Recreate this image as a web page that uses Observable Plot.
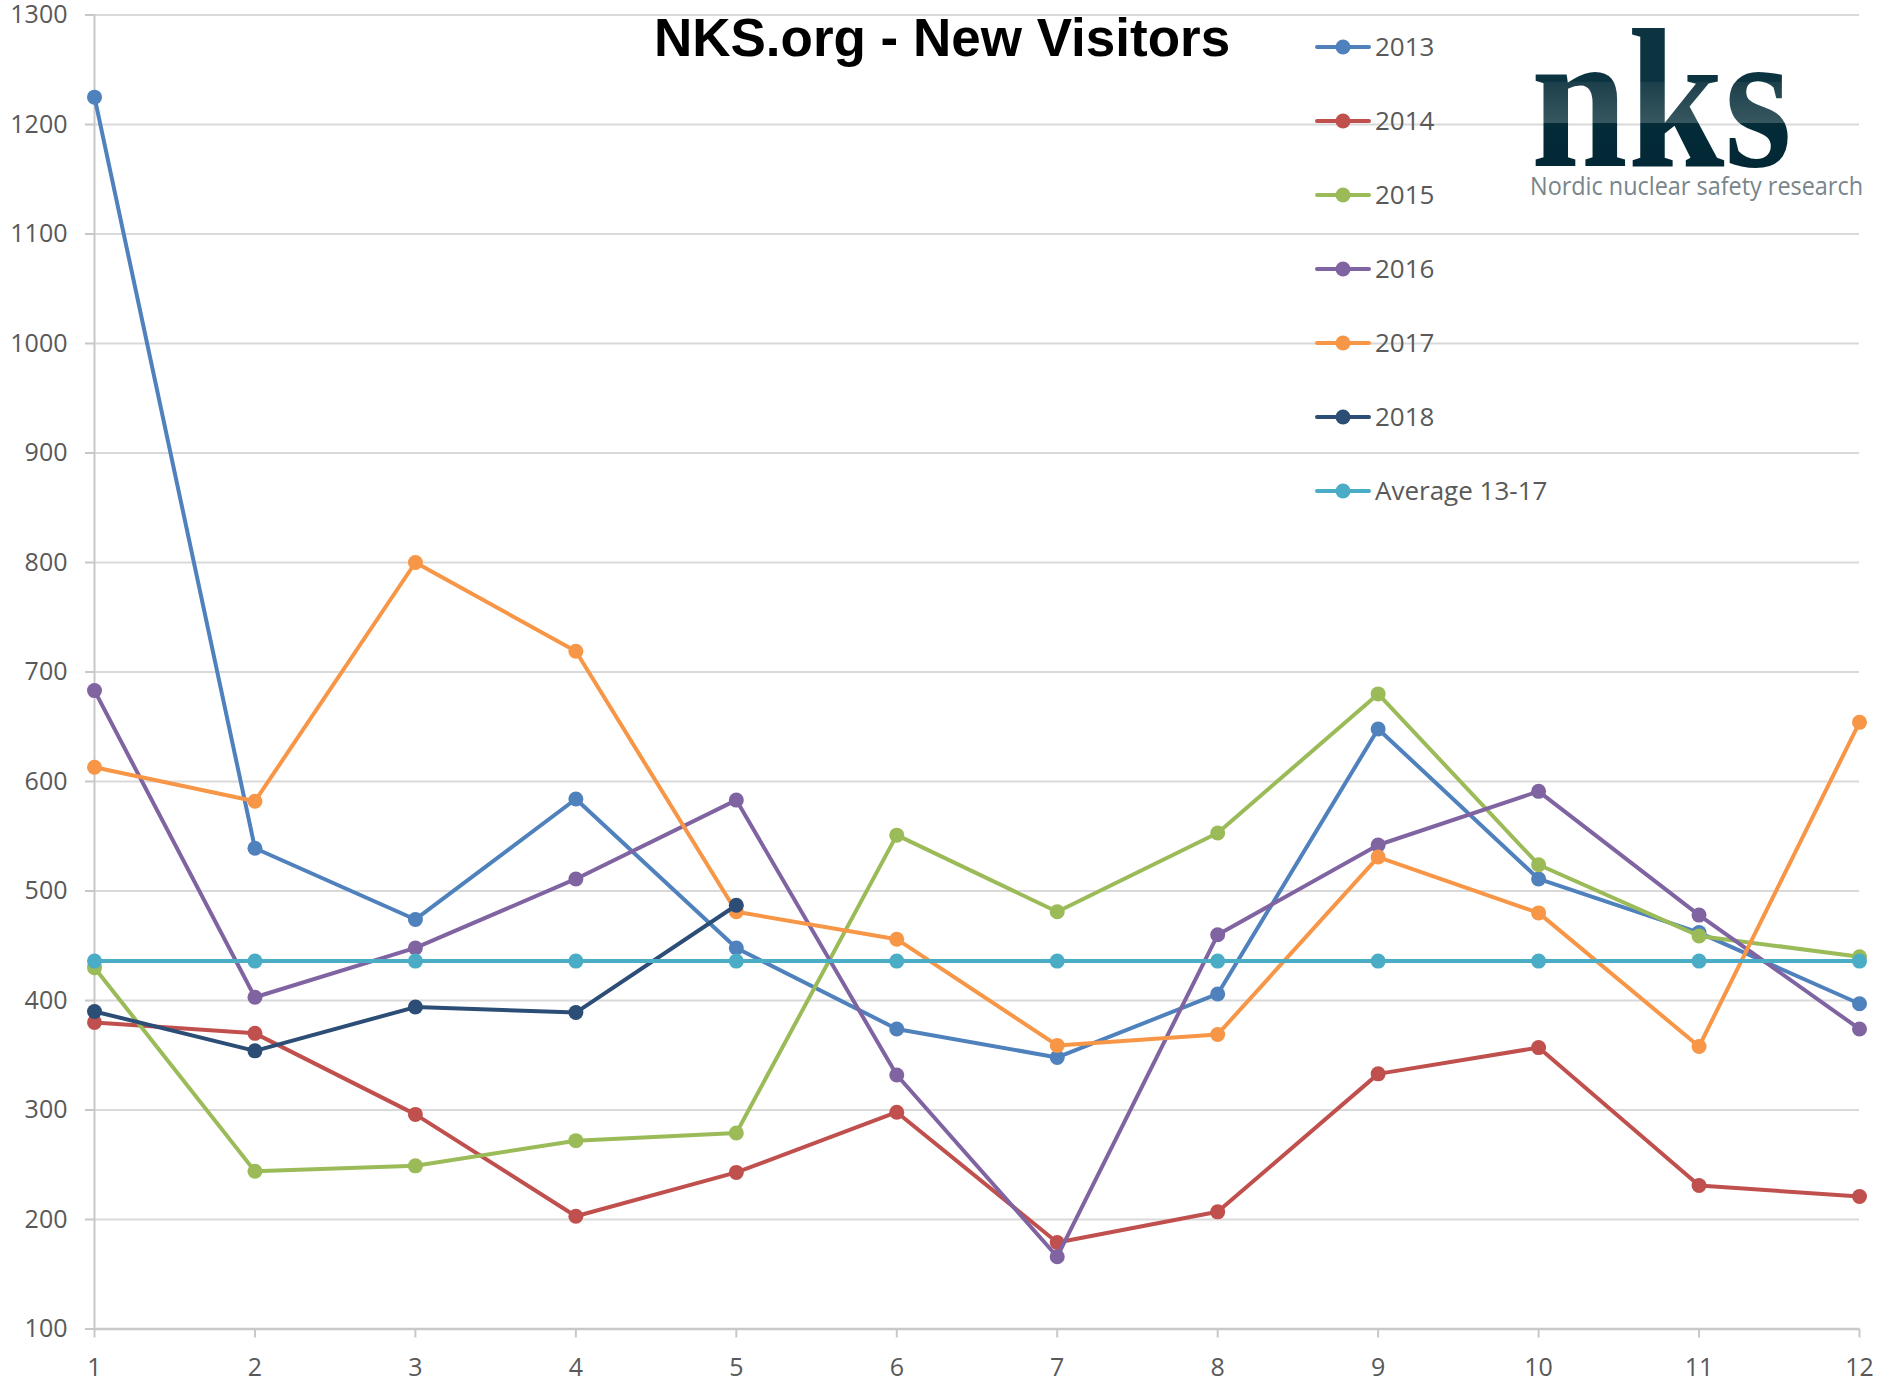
<!DOCTYPE html>
<html>
<head>
<meta charset="utf-8">
<script src="https://cdn.jsdelivr.net/npm/d3@7"></script>
<script src="https://cdn.jsdelivr.net/npm/@observablehq/plot@0.6"></script>
<style>
html, body { margin: 0; padding: 0; background: #fff; }
#wrap { position: relative; width: 1883px; height: 1390px; overflow: hidden; background: #fff; }
#overlay { position: absolute; left: 0; top: 0; pointer-events: none; }
</style>
</head>
<body>
<div id="wrap"></div>
<script>
// ---- data ----
const months = [1, 2, 3, 4, 5, 6, 7, 8, 9, 10, 11, 12];
const yTicks = [100, 200, 300, 400, 500, 600, 700, 800, 900, 1000, 1100, 1200, 1300];
const seriesNames = ["2013", "2014", "2015", "2016", "2017", "2018", "Average 13-17"];
const seriesColors = ["#4F81BD", "#C0504D", "#9BBB59", "#8064A2", "#F79646", "#2C4D75", "#4BACC6"];
const v2013 = [1225, 539, 474, 584, 448, 374, 348, 406, 648, 511, 462, 397];
const v2014 = [380, 370, 296, 203, 243, 298, 179, 207, 333, 357, 231, 221];
const v2015 = [430, 244, 249, 272, 279, 551, 481, 553, 680, 524, 459, 440];
const v2016 = [683, 403, 448, 511, 583, 332, 166, 460, 542, 591, 478, 374];
const v2017 = [613, 582, 800, 719, 481, 456, 359, 369, 531, 480, 358, 654];
const v2018 = [390, 354, 394, 389, 487];
const vAvg  = [436, 436, 436, 436, 436, 436, 436, 436, 436, 436, 436, 436];
const seriesValues = [v2013, v2014, v2015, v2016, v2017, v2018, vAvg];
const titleText = "NKS.org - New Visitors";
const logoText = "nks";
const logoSub = "Nordic nuclear safety research";

const rows = seriesNames.flatMap((name, i) =>
  seriesValues[i].map((v, j) => ({series: name, month: months[j], value: v})));

// ---- chart ----
const axisColor = "#c8c8c8";
const textColor = "#595959";
const plain = d => String(d);
const marks = [
  Plot.gridY(yTicks, {stroke: "#d9d9d9", strokeOpacity: 1, strokeWidth: 2}),
  Plot.ruleX([1], {stroke: axisColor, strokeWidth: 2}),
  Plot.ruleY([100], {stroke: axisColor, strokeWidth: 2.5}),
  Plot.axisY(yTicks, {tickSize: 9, tickPadding: 18, fontSize: 25, stroke: axisColor, strokeWidth: 2, fill: textColor, label: null, tickFormat: plain}),
  Plot.axisX(months, {tickSize: 9, tickPadding: 20, fontSize: 25, stroke: axisColor, strokeWidth: 2, fill: textColor, label: null, tickFormat: plain})
];
seriesNames.forEach((name, i) => {
  const d = rows.filter(r => r.series === name);
  marks.push(Plot.line(d, {x: "month", y: "value", stroke: seriesColors[i], strokeWidth: 4, strokeLinejoin: "round", strokeLinecap: "round"}));
  marks.push(Plot.dot(d, {x: "month", y: "value", r: 7.5, fill: seriesColors[i], stroke: "none"}));
});

const chart = Plot.plot({
  width: 1883,
  height: 1390,
  marginLeft: 94,
  marginRight: 24,
  marginTop: 14.5,
  marginBottom: 61.5,
  x: {type: "linear", domain: [1, 12], label: null},
  y: {type: "linear", domain: [100, 1300], label: null},
  style: {fontFamily: "'Open Sans', sans-serif", background: "#fff", color: textColor},
  marks
});
const wrap = document.getElementById("wrap");
wrap.appendChild(chart);

// ---- overlay: title, legend, logo ----
const svg = d3.select(wrap).append("svg")
  .attr("id", "overlay").attr("width", 1883).attr("height", 1390);

svg.append("text")
  .attr("x", 942).attr("y", 56)
  .attr("text-anchor", "middle")
  .attr("font-family", "'Liberation Sans', Arial, sans-serif")
  .attr("font-weight", "bold").attr("font-size", 53)
  .attr("fill", "#000").text(titleText);

const lg = svg.append("g");
seriesNames.forEach((name, i) => {
  const cy = 47 + i * 74;
  lg.append("line").attr("x1", 1317).attr("x2", 1369).attr("y1", cy).attr("y2", cy)
    .attr("stroke", seriesColors[i]).attr("stroke-width", 4).attr("stroke-linecap", "round");
  lg.append("circle").attr("cx", 1343).attr("cy", cy).attr("r", 7.5).attr("fill", seriesColors[i]);
  lg.append("text").attr("x", 1375).attr("y", cy).attr("dy", "0.36em")
    .attr("font-family", "'Open Sans', sans-serif").attr("font-size", 26)
    .attr("fill", textColor).text(name);
});

const defs = svg.append("defs");
const grad = defs.append("linearGradient").attr("id", "nksGrad")
  .attr("gradientUnits", "userSpaceOnUse").attr("x1", 0).attr("y1", 26).attr("x2", 0).attr("y2", 168);
[[0, "#0b3340"], [0.39, "#0b3340"], [0.395, "#1c404b"], [0.68, "#37575f"], [0.685, "#032b38"], [1, "#032835"]]
  .forEach(([o, c]) => grad.append("stop").attr("offset", o).attr("stop-color", c));

svg.append("text")
  .attr("x", 1531).attr("y", 166)
  .attr("font-family", "'Liberation Serif', 'DejaVu Serif', serif")
  .attr("font-weight", "bold").attr("font-size", 200)
  .attr("textLength", 261).attr("lengthAdjust", "spacingAndGlyphs")
  .attr("fill", "url(#nksGrad)").text(logoText);

svg.append("text")
  .attr("x", 1530).attr("y", 195)
  .attr("font-family", "'Open Sans', sans-serif").attr("font-size", 25)
  .attr("textLength", 333).attr("lengthAdjust", "spacingAndGlyphs")
  .attr("fill", "#78858a").text(logoSub);
</script>
</body>
</html>
